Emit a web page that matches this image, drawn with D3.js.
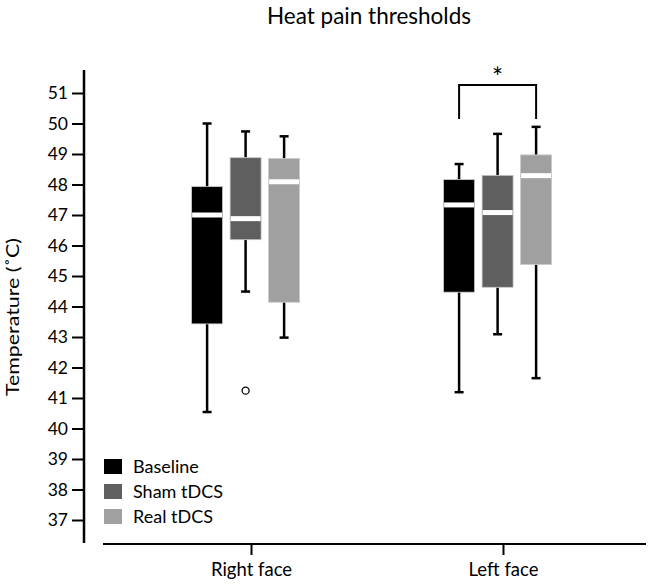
<!DOCTYPE html>
<html>
<head>
<meta charset="utf-8">
<script src="https://cdn.jsdelivr.net/npm/d3@7"></script>
<style>
  body { margin: 0; background: #fff; }
  svg { display: block; }
  text { font-family: Lato, "Open Sans", sans-serif; fill: #000; }
</style>
</head>
<body>
<svg id="chart" width="651" height="586"></svg>
<script>
// ---- data ----
const groups = ["Right face", "Left face"];
const series = ["Baseline", "Sham tDCS", "Real tDCS"];
const yTicks = [37, 38, 39, 40, 41, 42, 43, 44, 45, 46, 47, 48, 49, 50, 51];
// [whiskerLow, q1, median, q3, whiskerHigh]
const baselineStats = [[40.54, 43.43, 47.0, 47.93, 50.0], [41.19, 44.47, 47.33, 48.16, 48.67]];
const shamStats     = [[44.49, 46.19, 46.88, 48.88, 49.74], [43.09, 44.63, 47.08, 48.30, 49.66]];
const realStats     = [[42.98, 44.14, 48.09, 48.85, 49.58], [41.65, 45.38, 48.29, 48.97, 49.89]];
const outliers = [{ group: "Right face", series: "Sham tDCS", value: 41.24 }];
const significance = [{ group: "Left face", from: "Baseline", to: "Real tDCS", top: 51.26, bottom: 50.15, label: "*" }];
const colors = ["#000000", "#5f5f5f", "#a0a0a0"];

const statsBySeries = [baselineStats, shamStats, realStats];

const svg = d3.select("#chart");

const y = d3.scaleLinear().domain([37, 51]).range([520, 93]);
const x = d3.scalePoint().domain(groups).range([251, 503]);
const inner = d3.scaleBand().domain(series).range([-59.4, 48.6]).paddingInner(0.195);
const color = d3.scaleOrdinal().domain(series).range(colors);

// title
svg.append("text").attr("x", 369).attr("y", 24).attr("text-anchor", "middle")
  .style("font-size", "22.5px").text("Heat pain thresholds");

// y axis
const yAxis = svg.append("g").attr("transform", "translate(84,0)")
  .call(d3.axisLeft(y).tickValues(yTicks).tickSize(12).tickPadding(4).tickFormat(d3.format("d")));
yAxis.select(".domain").remove();
yAxis.append("line").attr("x1", 0).attr("x2", 0).attr("y1", 70).attr("y2", 543)
  .attr("stroke", "#000").attr("stroke-width", 2.5);
yAxis.selectAll(".tick line").attr("stroke-width", 2);
yAxis.selectAll(".tick text").style("font-size", "17.5px").style("font-family", "Lato, sans-serif");

// x axis
const xAxis = svg.append("g").attr("transform", "translate(0,544)")
  .call(d3.axisBottom(x).tickSize(11).tickPadding(8));
xAxis.select(".domain").remove();
xAxis.append("line").attr("x1", 103).attr("x2", 646).attr("y1", 0).attr("y2", 0)
  .attr("stroke", "#000").attr("stroke-width", 2);
xAxis.selectAll(".tick line").attr("stroke-width", 2);
xAxis.selectAll(".tick text").style("font-size", "18.5px").style("font-family", "Lato, sans-serif");

// y label
svg.append("text").attr("transform", "translate(19,317) rotate(-90)")
  .attr("text-anchor", "middle").style("font-size", "18px")
  .attr("textLength", 158).attr("lengthAdjust", "spacingAndGlyphs")
  .text("Temperature (˚C)");

// boxes
const bw = inner.bandwidth();
series.forEach((s, si) => {
  groups.forEach((g, gi) => {
    const st = statsBySeries[si][gi];
    const cx = x(g) + inner(s) + bw / 2;
    const gEl = svg.append("g");
    gEl.append("line").attr("x1", cx).attr("x2", cx).attr("y1", y(st[0])).attr("y2", y(st[1]))
      .attr("stroke", "#000").attr("stroke-width", 2.5);
    gEl.append("line").attr("x1", cx).attr("x2", cx).attr("y1", y(st[3])).attr("y2", y(st[4]))
      .attr("stroke", "#000").attr("stroke-width", 2.5);
    [st[0], st[4]].forEach(v => {
      gEl.append("line").attr("x1", cx - 4.5).attr("x2", cx + 4.5).attr("y1", y(v)).attr("y2", y(v))
        .attr("stroke", "#000").attr("stroke-width", 2.5);
    });
    gEl.append("rect").attr("x", cx - bw / 2).attr("width", bw)
      .attr("y", y(st[3])).attr("height", y(st[1]) - y(st[3]))
      .attr("fill", color(s)).attr("stroke", "#c8c8c8").attr("stroke-width", 0.8);
    gEl.append("line").attr("x1", cx - bw / 2 + 0.5).attr("x2", cx + bw / 2 - 0.5)
      .attr("y1", y(st[2])).attr("y2", y(st[2]))
      .attr("stroke", "#fff").attr("stroke-width", 5);
  });
});

// outliers
outliers.forEach(o => {
  const cx = x(o.group) + inner(o.series) + bw / 2;
  svg.append("circle").attr("cx", cx).attr("cy", y(o.value)).attr("r", 3.5)
    .attr("fill", "#fff").attr("stroke", "#000").attr("stroke-width", 1.3);
});

// significance bracket
significance.forEach(sg => {
  const x1 = x(sg.group) + inner(sg.from) + bw / 2;
  const x2 = x(sg.group) + inner(sg.to) + bw / 2;
  svg.append("path")
    .attr("d", `M${x1},${y(sg.bottom)}V${y(sg.top)}H${x2}V${y(sg.bottom)}`)
    .attr("fill", "none").attr("stroke", "#000").attr("stroke-width", 2);
  svg.append("text").attr("x", (x1 + x2) / 2).attr("y", y(sg.top) + 2)
    .attr("text-anchor", "middle").style("font-size", "26px").text(sg.label);
});

// legend
const legend = svg.append("g").attr("transform", "translate(104,459)");
series.forEach((s, i) => {
  const row = legend.append("g").attr("transform", `translate(0,${i * 25})`);
  row.append("rect").attr("width", 18).attr("height", 15).attr("fill", color(s));
  row.append("text").attr("x", 29).attr("y", 14).style("font-size", "18px").text(s);
});
</script>
</body>
</html>
